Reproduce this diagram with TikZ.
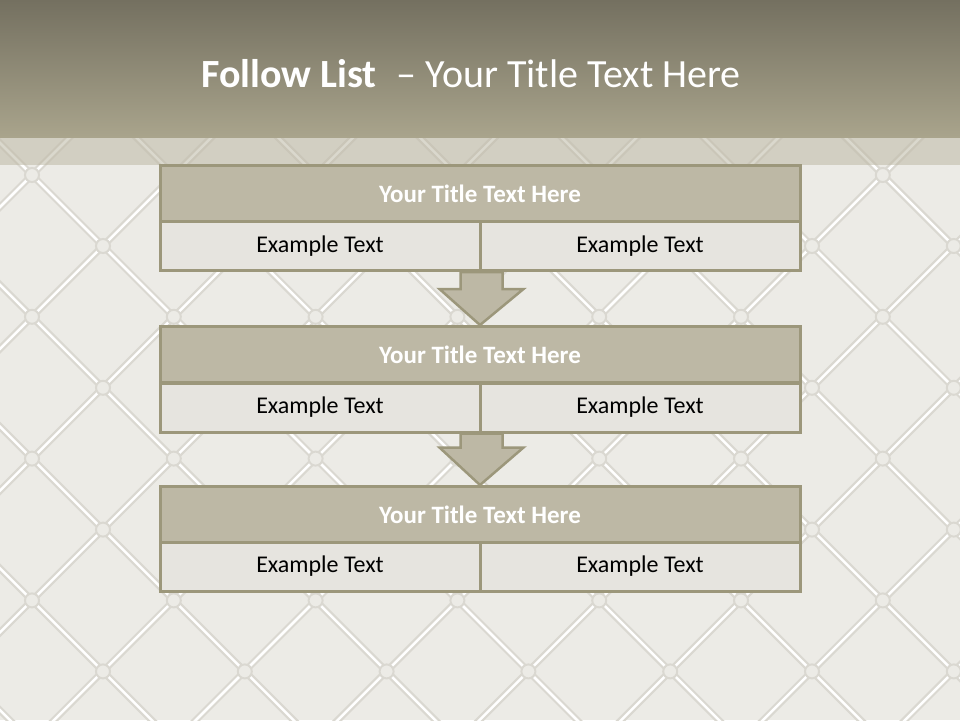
\documentclass[tikz,border=0pt]{standalone}
\usepackage{fontspec}
\setmainfont{Carlito}
\usetikzlibrary{calc}
\definecolor{bandtop}{HTML}{747060}
\definecolor{bandbot}{HTML}{A9A48C}
\definecolor{paper}{HTML}{ECEBE6}
\definecolor{seamshade}{HTML}{DAD8D1}
\definecolor{rowhead}{HTML}{BDB8A5}
\definecolor{rowcell}{HTML}{E6E4DF}
\definecolor{rim}{HTML}{9C977B}

\begin{document}
\begin{tikzpicture}[x=1pt, y=-1pt,
  head/.style={rectangle, draw=rim, line width=3pt, fill=rowhead, minimum width=640pt, minimum height=56pt, text=white, font=\fontsize{25}{30}\selectfont\bfseries},
  cell/.style={rectangle, draw=rim, line width=3pt, fill=rowcell, minimum width=320pt, minimum height=49pt, font=\fontsize{24}{29}\selectfont},
  blockarrow/.style={draw=rim, line width=2.5pt, fill=rowhead, line join=miter},
  seam/.style={draw=white, line width=2.5pt},
  seamshadow/.style={draw=seamshade, line width=7pt},
  button/.style={draw=seamshade, line width=2pt, fill=paper},
]
  % page and quilted backdrop
  \useasboundingbox (0,0) rectangle (960,720);
  \fill[paper] (0,0) rectangle (960,720);
  \begin{scope}
    \clip (0,137) rectangle (960,720);
    \foreach \m in {-4,...,8} {
      \draw[seamshadow] ({-143+141.8*\m+100},100) -- ({-143+141.8*\m+800},800);
      \draw[seamshadow] ({207+141.8*(\m+3)-100},100) -- ({207+141.8*(\m+3)-800},800);
    }
    \foreach \m in {-4,...,8} {
      \draw[seam] ({-143+141.8*\m+100},100) -- ({-143+141.8*\m+800},800);
      \draw[seam] ({207+141.8*(\m+3)-100},100) -- ({207+141.8*(\m+3)-800},800);
    }
    \foreach \k in {0,...,6} {
      \foreach \m in {-1,...,3} {
        \draw[button] ({32+141.8*\k},{175+141.8*\m}) circle (7);
        \draw[button] ({103+141.8*\k},{246+141.8*\m}) circle (7);
      }
    }
    \fill[rowhead, opacity=0.55] (0,137) rectangle (960,165);
  \end{scope}

  % title band
  \shade[top color=bandtop, bottom color=bandbot] (0,0) rectangle (960,137);
  \node[anchor=base, text=white, font=\fontsize{40}{48}\selectfont] (title) at (471,87) {\textbf{Follow List}\enspace{}– Your Title Text Here};

  % first list block
  \node[head] (t1) at (480,193.5) {Your Title Text Here};
  \node[cell] (a1) at (320,246) {Example Text};
  \node[cell] (b1) at (640,246) {Example Text};

  % second list block
  \node[head] (t2) at (480,354.5) {Your Title Text Here};
  \node[cell] (a2) at (320,407.5) {Example Text};
  \node[cell] (b2) at (640,407.5) {Example Text};

  % third list block
  \node[head] (t3) at (480,514.5) {Your Title Text Here};
  \node[cell] (a3) at (320,566.5) {Example Text};
  \node[cell] (b3) at (640,566.5) {Example Text};

  % down arrows between blocks
  \draw[blockarrow] ($(a1.south east)+(-21,0)$) -- ++(0,17) -- ++(-21,0) -- (t2.north) -- ($(a1.south east)+(42,17)$) -- ++(-21,0) -- ++(0,-17) -- cycle;
  \draw[blockarrow] ($(a2.south east)+(-21,0)$) -- ++(0,14) -- ++(-21,0) -- (t3.north) -- ($(a2.south east)+(42,14)$) -- ++(-21,0) -- ++(0,-14) -- cycle;
\end{tikzpicture}
\end{document}
